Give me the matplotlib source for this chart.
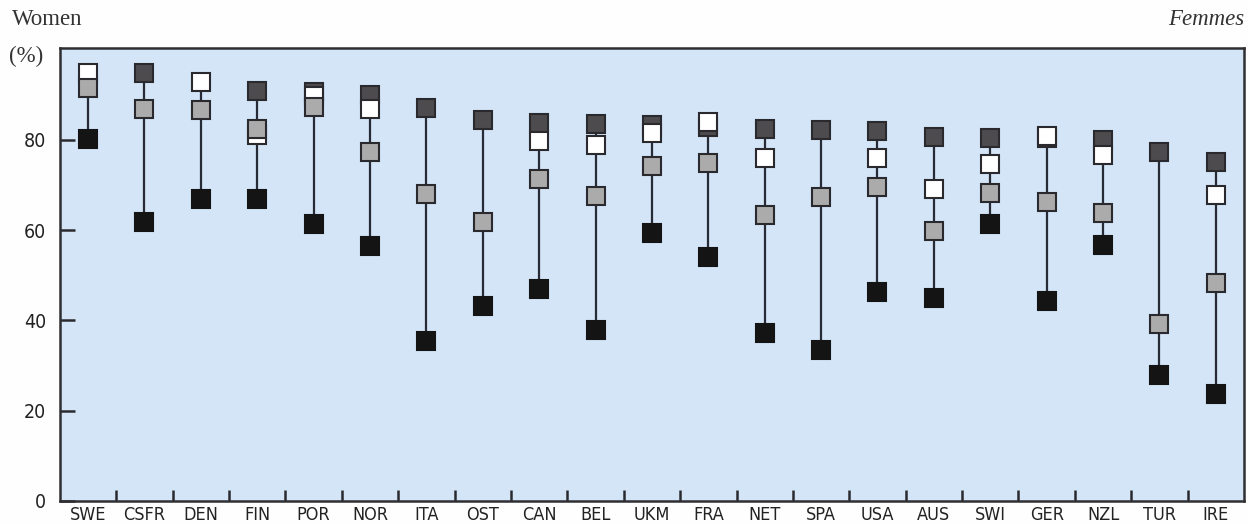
import numpy as np
import matplotlib
matplotlib.use("Agg")
import matplotlib.pyplot as plt
from matplotlib import font_manager as fm

countries = ["SWE", "CSFR", "DEN", "FIN", "POR", "NOR", "ITA", "OST", "CAN", "BEL", "UKM",
             "FRA", "NET", "SPA", "USA", "AUS", "SWI", "GER", "NZL", "TUR", "IRE"]
nan = np.nan
dark_gray = [nan, 94.7, nan, 90.9, 90.5, 89.9, 87.1, 84.4, 83.7, 83.5, 83.3,
             82.9, 82.5, 82.1, 82.0, 80.7, 80.5, 80.4, 80.0, 77.4, 75.0]
white = [94.9, nan, 92.9, 81.0, 89.7, 86.8, nan, nan, 79.8, 78.9, 81.6,
         83.9, 76.0, nan, 76.0, 69.0, 74.6, 80.9, 76.7, nan, 67.8]
light_gray = [91.4, 86.9, 86.5, 82.5, 87.3, 77.2, 68.1, 61.7, 71.3, 67.6, 74.1,
              74.8, 63.3, 67.3, 69.5, 59.7, 68.3, 66.3, 63.7, 39.3, 48.2]
black = [80.1, 61.9, 67.0, 67.0, 61.3, 56.4, 35.4, 43.1, 46.9, 37.8, 59.3,
         54.0, 37.3, 33.4, 46.2, 45.0, 61.3, 44.2, 56.7, 27.8, 23.7]
yticks = [0, 20, 40, 60, 80]

fig = plt.figure(figsize=(12.48, 5.24), dpi=100, facecolor="#fefefe")
ax = fig.add_axes([0.048, 0.044, 0.9488, 0.864])
ax.set_facecolor("#d3e5f7")

x = np.arange(len(countries))
allv = np.vstack([dark_gray, white, light_gray, black])
lo = np.nanmin(allv, axis=0)
hi = np.nanmax(allv, axis=0)
ax.vlines(x, lo, hi, color="#262b36", lw=1.6, zorder=2)

ms = 12.5
mew = 1.5
ec = "#2a2a2e"
ax.plot(x, dark_gray, ls="none", marker="s", ms=ms, mfc="#4e4b4e", mec=ec, mew=mew, zorder=3)
ax.plot(x, white, ls="none", marker="s", ms=ms, mfc="#ffffff", mec=ec, mew=mew, zorder=4)
ax.plot(x, light_gray, ls="none", marker="s", ms=ms, mfc="#ababab", mec=ec, mew=mew, zorder=5)
ax.plot(x, black, ls="none", marker="s", ms=ms, mfc="#141414", mec="#141414", mew=mew, zorder=6)

ax.set_xlim(-0.5, len(countries) - 0.5)
ax.set_ylim(0, 100.3)

ax.set_yticks(yticks)
ax.set_yticklabels([str(v) for v in yticks], fontsize=14, family="DejaVu Sans",
                   stretch="condensed", color="#222222")
ax.tick_params(axis="y", direction="in", length=11, width=1.8, color="#2a2a2e", pad=10)

ax.set_xticks(x)
ax.set_xticklabels(countries, fontsize=13, family="DejaVu Sans", stretch="condensed",
                   color="#222222")
ax.set_xticks(np.arange(len(countries) - 1) + 0.5, minor=True)
ax.tick_params(axis="x", which="major", length=0, pad=4)
ax.tick_params(axis="x", which="minor", direction="in", length=8, width=1.8, color="#2a2a2e")

for s in ax.spines.values():
    s.set_color("#2f2f33")
    s.set_linewidth(1.8)

fig.text(0.010, 0.962, "Women", family="Liberation Serif", fontsize=16.5, color="#333333",
         ha="left", va="center")
fig.text(0.007, 0.893, "(%)", family="Liberation Serif", fontsize=16.5, color="#333333",
         ha="left", va="center")
fig.text(0.9968, 0.962, "Femmes", family="Liberation Serif", style="italic", fontsize=16.5,
         color="#333333", ha="right", va="center")

fig.savefig("out.png", dpi=100, facecolor=fig.get_facecolor())
